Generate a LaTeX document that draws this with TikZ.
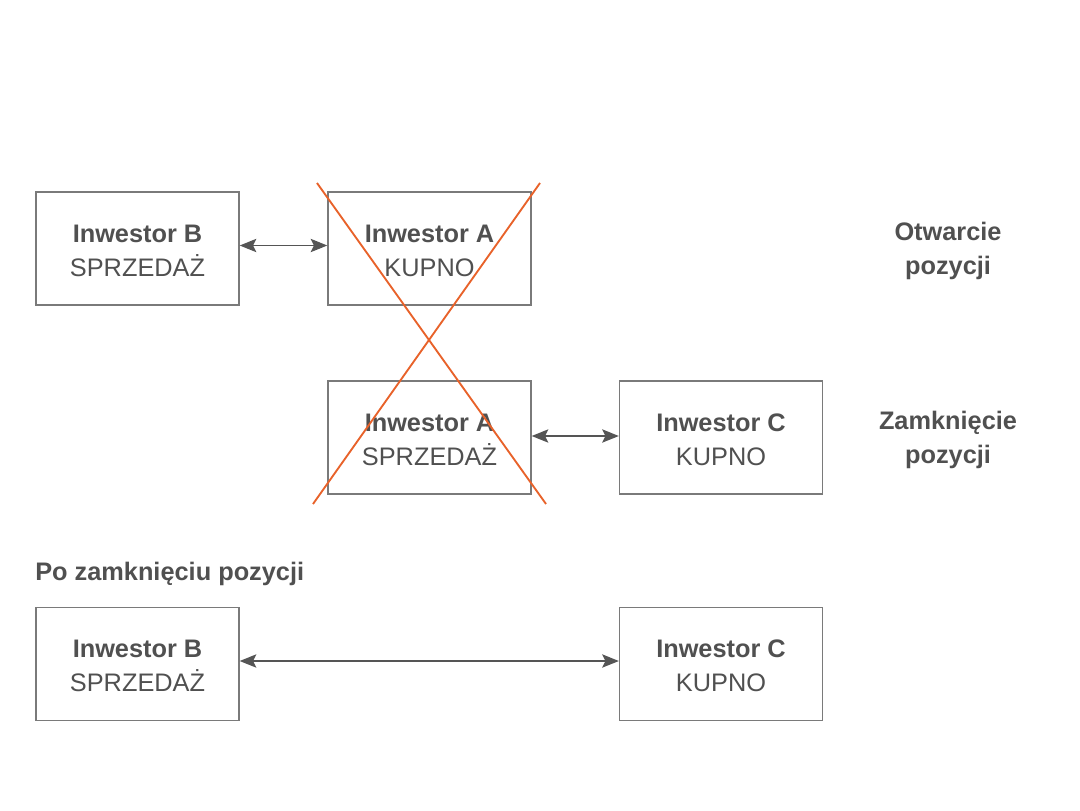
\documentclass[tikz,border=0pt]{standalone}
\usepackage{fontspec}
\setmainfont{Liberation Sans}
\usetikzlibrary{arrows.meta}
\definecolor{boxgray}{HTML}{7A7A7A}
\definecolor{txtgray}{HTML}{505050}
\definecolor{arrgray}{HTML}{555555}
\definecolor{xorange}{HTML}{E8622A}
\tikzset{
  invbox/.style={draw=boxgray, line width=1pt, minimum width=203*0.75pt, minimum height=113*0.75pt,
    inner sep=0pt},
  boxtext/.style={text=txtgray, align=center, inner sep=0pt, font=\fontsize{19}{25.5}\selectfont},
  link/.style={draw=arrgray, line width=1pt, {Stealth[length=12.5pt,width=10pt,inset=2.5pt]}-{Stealth[length=12.5pt,width=10pt,inset=2.5pt]}},
  cross/.style={draw=xorange, line width=1.4pt},
  sidelabel/.style={text=txtgray, align=center, font=\fontsize{19}{25.5}\selectfont\bfseries}
}
\begin{document}
\begin{tikzpicture}[x=0.75pt,y=-0.75pt]
\useasboundingbox (0,0) rectangle (1080,810);
\node[invbox] (b1) at (137.5,248.5) {};
\node[invbox] (a1) at (429.5,248.5) {};
\node[invbox] (a2) at (429.5,437.5) {};
\node[invbox] (c1) at (721,437.5) {};
\node[invbox] (b3) at (137.5,664) {};
\node[invbox] (c3) at (721,664) {};
\foreach \n/\name/\role in {b1/B/SPRZEDAŻ, a1/A/KUPNO, a2/A/SPRZEDAŻ, c1/C/KUPNO, b3/B/SPRZEDAŻ, c3/C/KUPNO}{
  \node[boxtext] (\n t) at ([yshift=-2*0.75pt]\n.center) {\textbf{Inwestor \name}\\[0pt]\role};
}
\draw[link] ([yshift=3*0.75pt]b1.east) -- ([yshift=3*0.75pt]a1.west);
\draw[link] ([yshift=1.5*0.75pt]a2.east) -- ([yshift=1.5*0.75pt]c1.west);
\draw[link] ([yshift=3*0.75pt]b3.east) -- ([yshift=3*0.75pt]c3.west);
\coordinate (x1s) at (317,183);
\coordinate (x1e) at (546,504);
\coordinate (x2s) at (540,183);
\coordinate (x2e) at (313,504);
\draw[cross] (x1s) -- (x1e);
\draw[cross] (x2s) -- (x2e);
\node[sidelabel] (open) at (948,251) {Otwarcie\\pozycji};
\node[sidelabel] (close) at (948,440) {Zamknięcie\\pozycji};
\node[sidelabel, anchor=west, inner sep=0pt] (after) at (35,574) {Po zamknięciu pozycji};
\end{tikzpicture}
\end{document}
